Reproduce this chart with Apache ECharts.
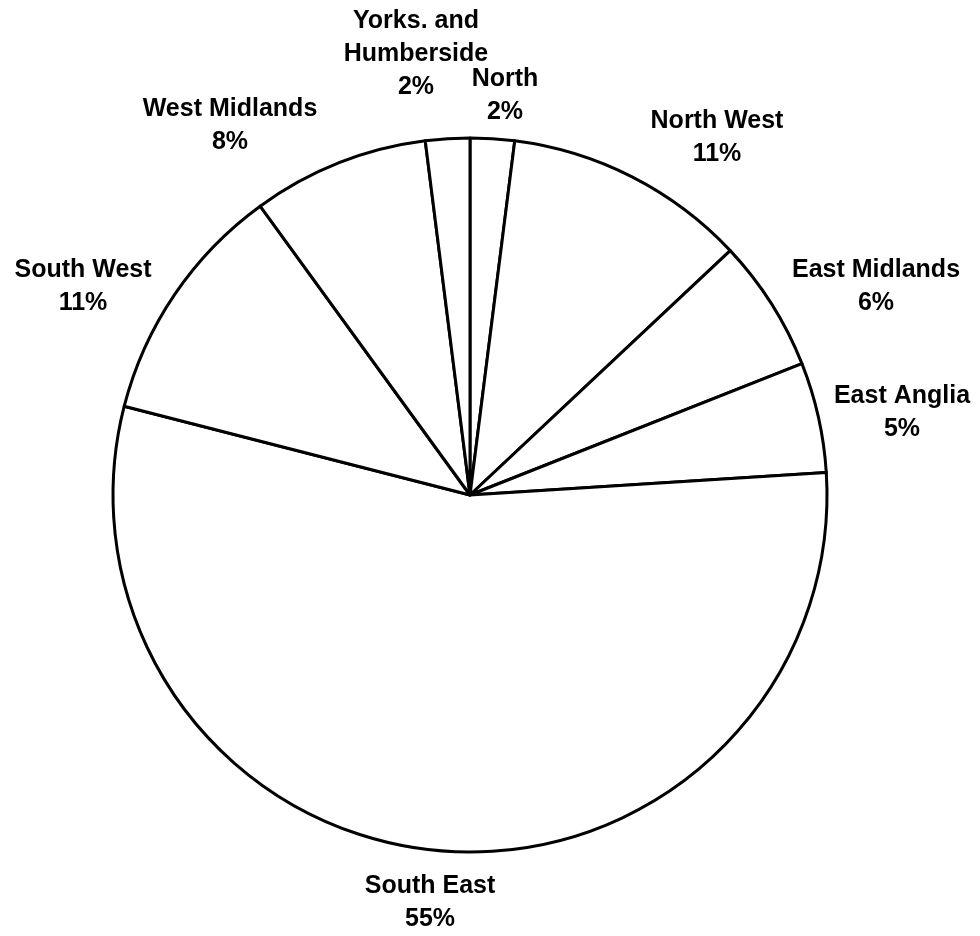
<!DOCTYPE html>
<html>
<head>
<meta charset="utf-8">
<script src="https://cdn.jsdelivr.net/npm/echarts@6/dist/echarts.min.js"></script>
<style>
  html, body { margin: 0; padding: 0; background: #fff; }
  #chart { width: 980px; height: 936px; }
</style>
</head>
<body>
<div id="chart"></div>
<script>
// Regional shares (%), clockwise from twelve o'clock
const regions = ['North', 'North West', 'East Midlands', 'East Anglia', 'South East', 'South West', 'West Midlands', 'Yorks. and\nHumberside'];
const shares = [2, 11, 6, 5, 55, 11, 8, 2];

// Where each region's caption block is centred (pixels), same order as regions
const captionSpots = [
  [505, 96], [717, 138], [876, 287], [902, 413],
  [430, 903], [83, 287], [230, 126], [416, 54]
];

const chart = echarts.init(document.getElementById('chart'), null, { renderer: 'canvas' });

chart.setOption({
  backgroundColor: '#ffffff',
  animation: false,
  series: [{
    type: 'pie',
    center: [470, 495],
    radius: [0, 357],
    startAngle: 90,
    clockwise: true,
    avoidLabelOverlap: false,
    data: regions.map((name, i) => ({ name: name, value: shares[i] })),
    itemStyle: { color: '#ffffff', borderColor: '#000000', borderWidth: 3 },
    emphasis: { disabled: true },
    label: {
      show: true,
      position: 'outside',
      formatter: p => p.name + '\n' + p.value + '%',
      color: '#000000',
      fontFamily: 'Liberation Sans, Arial, sans-serif',
      fontWeight: 'bold',
      fontSize: 25,
      lineHeight: 33,
      align: 'center'
    },
    labelLine: { show: false },
    labelLayout: params => {
      const spot = captionSpots[params.dataIndex];
      return {
        x: spot[0],
        y: spot[1],
        align: 'center',
        verticalAlign: 'middle',
        hideOverlap: false,
        moveOverlap: null
      };
    }
  }]
});
</script>
</body>
</html>
